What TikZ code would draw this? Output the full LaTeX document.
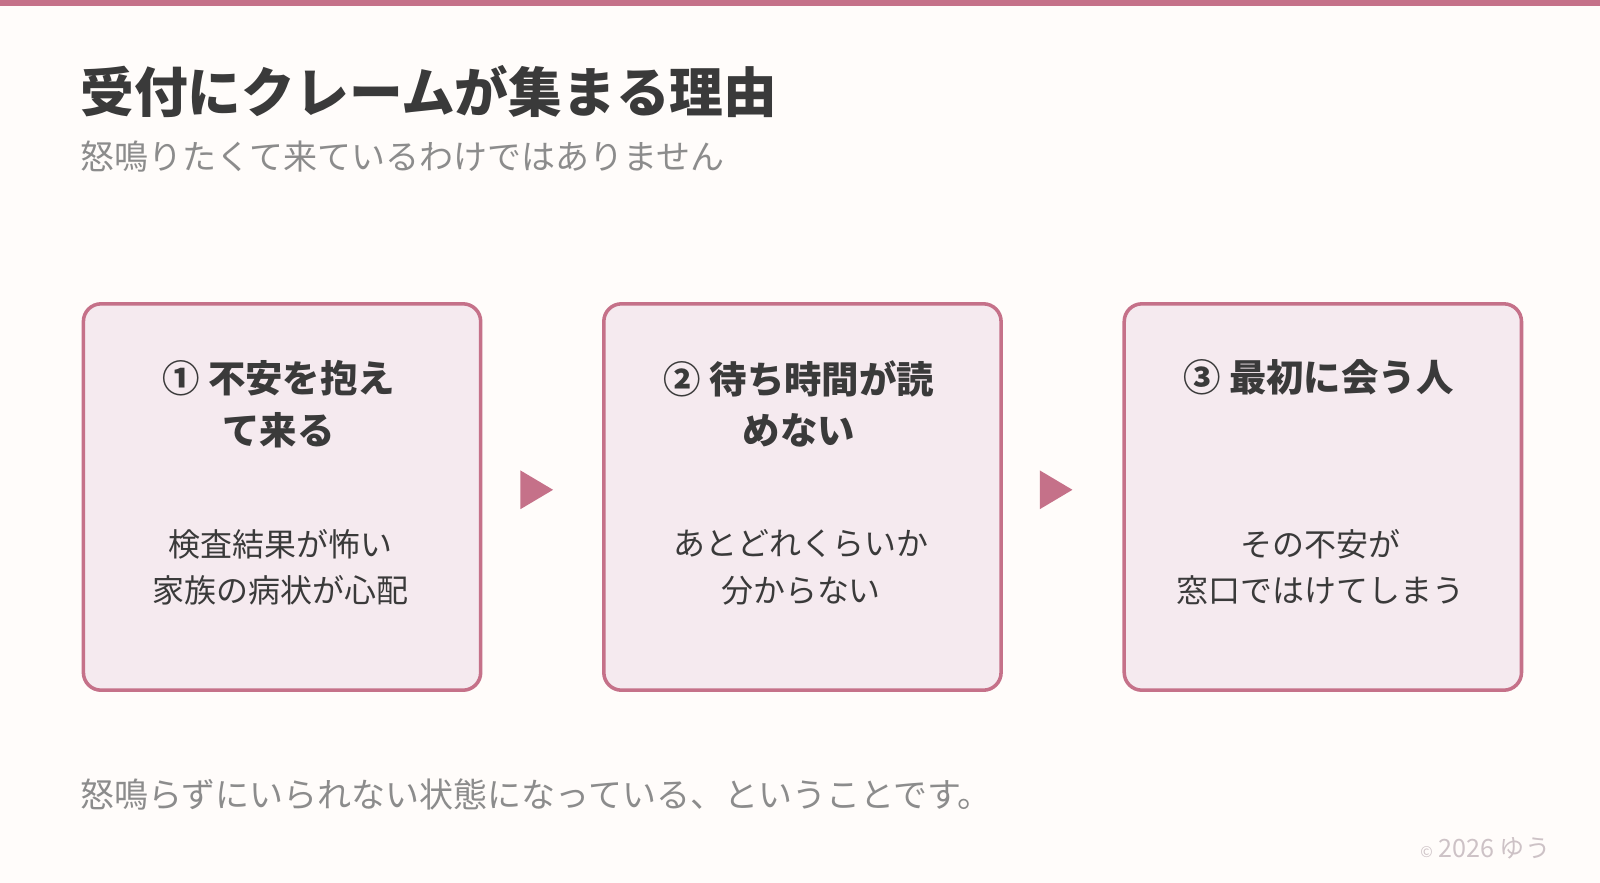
\documentclass[tikz,border=0pt]{standalone}
\usepackage{fontspec}
\setmainfont{Noto Sans CJK JP}
\begin{document}
\begin{tikzpicture}[x=0.75pt,y=-0.75pt,
  card/.style={draw=cardline,line width=2.6pt,fill=cardfill,rounded corners=13pt,minimum width=292pt,minimum height=284pt,anchor=north west},
  ctitle/.style={font=\fontsize{27.5}{38}\selectfont\bfseries,text=ink,align=center},
  cbody/.style={font=\fontsize{23.5}{34}\selectfont,text=ink,align=center},
  arr/.style={fill=cardline,draw=none}]
\definecolor{bg}{HTML}{FFFCFA}
\definecolor{cardline}{HTML}{C57189}
\definecolor{cardfill}{HTML}{F5EAEF}
\definecolor{ink}{HTML}{3A3A3A}
\definecolor{sub}{HTML}{8C8C8C}
\definecolor{copy}{HTML}{CDC2C6}
\fill[bg] (0,0) rectangle (1568,865.3);
\useasboundingbox (0,0) rectangle (1568,865.3);
\fill[cardline] (0,0) rectangle (1568,6);
\node[anchor=base west,font=\fontsize{39.5}{46}\selectfont\bfseries,text=ink] (title) at (74,110) {受付にクレームが集まる理由};
\node[anchor=base west,font=\fontsize{25}{30}\selectfont,text=sub] (subt) at (74,166) {怒鳴りたくて来ているわけではありません};
\node[card] (c1) at (80,296) {};
\node[card] (c2) at (590,296) {};
\node[card] (c3) at (1100,296) {};
\node[ctitle] (t1) at (273,396) {① 不安を抱え\\て来る};
\node[ctitle] (t2) at (783,396) {② 待ち時間が読\\めない};
\node[ctitle] (t3) at (1292,370) {③ 最初に会う人};
\node[cbody] (b1) at (275,556) {検査結果が怖い\\家族の病状が心配};
\node[cbody] (b2) at (785,556) {あとどれくらいか\\分からない};
\node[cbody] (b3) at (1294,556) {その不安が\\窓口ではけてしまう};
\coordinate (a1) at (510,461);
\coordinate (a2) at (1019,461);
\fill[arr] (a1) -- ++(32,19) -- ++(-32,19) -- cycle;
\fill[arr] (a2) -- ++(32,19) -- ++(-32,19) -- cycle;
\node[anchor=base west,font=\fontsize{25}{30}\selectfont,text=sub] (foot) at (74,791) {怒鳴らずにいられない状態になっている、ということです。};
\node[anchor=base east,font=\fontsize{18.5}{20}\selectfont,text=copy] (cp) at (1524,840) {{\fontsize{11}{12}\selectfont ©} 2026 ゆう};
\end{tikzpicture}
\end{document}
